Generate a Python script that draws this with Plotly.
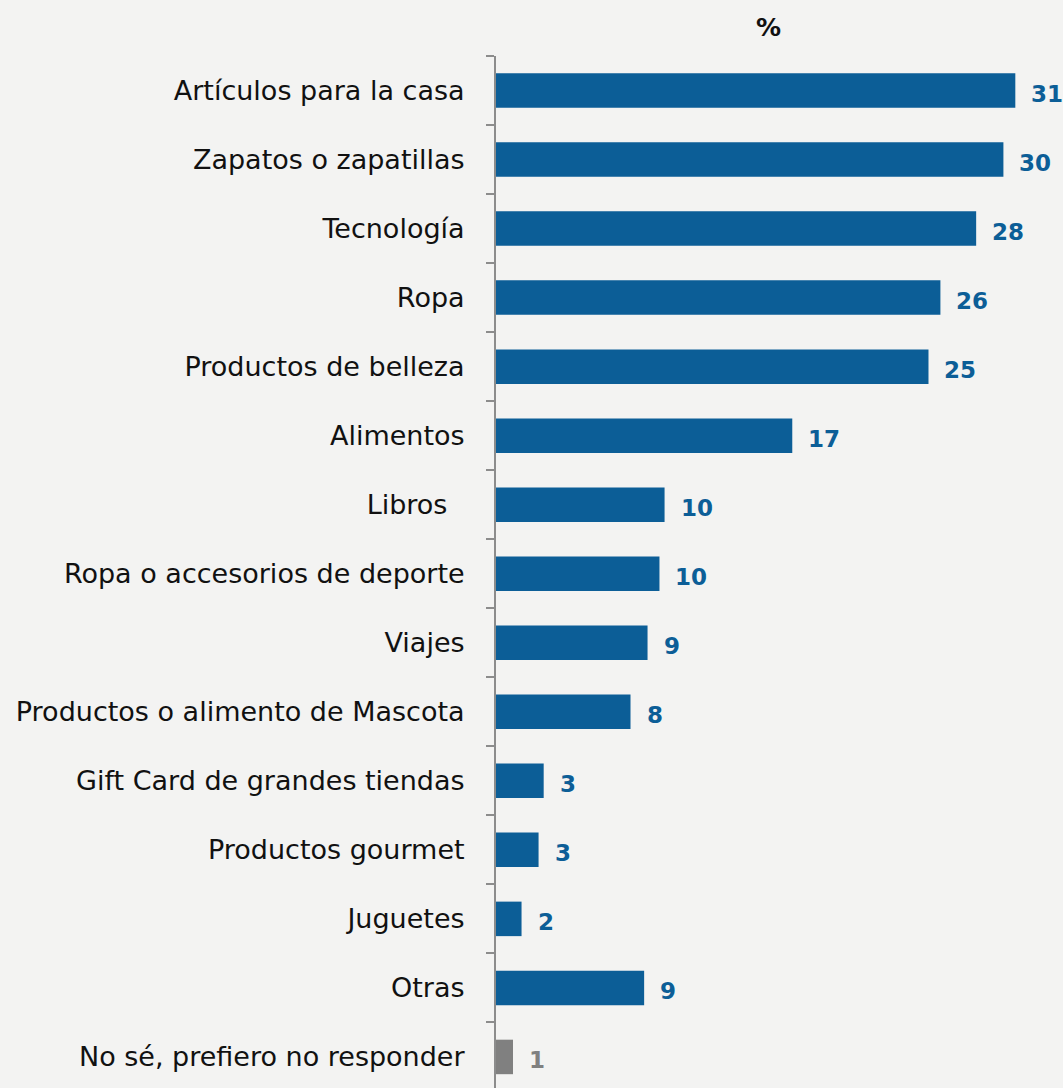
import plotly.graph_objects as go

# categories, top to bottom
categories = ["Artículos para la casa",
              "Zapatos o zapatillas",
              "Tecnología",
              "Ropa",
              "Productos de belleza",
              "Alimentos",
              "Libros\u00a0\u00a0",
              "Ropa o accesorios de deporte",
              "Viajes",
              "Productos o alimento de Mascota",
              "Gift Card de grandes tiendas",
              "Productos gourmet",
              "Juguetes",
              "Otras",
              "No sé, prefiero no responder"]

values = [30.5, 29.8, 28.2, 26.1, 25.4, 17.4, 9.9, 9.6, 8.9, 7.9, 2.8, 2.5, 1.5, 8.7, 1.0]
labels = ["31", "30", "28", "26", "25", "17", "10", "10", "9", "8", "3", "3", "2", "9", "1"]

blue = "#0c5e97"
grey = "#808080"
colors = [blue] * (len(values) - 1) + [grey]

fig = go.Figure()
fig.add_trace(go.Bar(
    x=values,
    y=categories,
    orientation="h",
    marker=dict(color=colors, line=dict(width=0)),
    hoverinfo="skip",
))

# value labels right of each bar
for cat, val, lab, col in zip(categories, values, labels, colors):
    fig.add_annotation(x=val, y=cat, text=f"<b>{lab}</b>",
                       xanchor="left", yanchor="middle",
                       xshift=14, yshift=-3, showarrow=False,
                       font=dict(size=23, color=col, family="DejaVu Sans"))

fig.add_annotation(text="<b>%</b>", xref="paper", yref="paper",
                   x=0.48, y=1, yshift=29, xanchor="center", yanchor="middle",
                   showarrow=False, font=dict(size=25, color="#111111", family="DejaVu Sans"))

fig.update_layout(
    width=1063, height=1088,
    margin=dict(l=496, r=0, t=56, b=0),
    paper_bgcolor="#f3f3f2",
    plot_bgcolor="rgba(0,0,0,0)",
    bargap=0.5,
    showlegend=False,
    font=dict(family="DejaVu Sans", size=27, color="#111111"),
)
fig.update_xaxes(range=[0, 33.3], visible=False, showgrid=False, zeroline=False)
fig.update_yaxes(
    range=[14.45, -0.5],
    showline=True, linecolor="#8c8c8c", linewidth=2,
    ticks="outside", tickson="boundaries", ticklen=8, tickwidth=2, tickcolor="#8c8c8c",
    ticklabelstandoff=24,
    showgrid=False, zeroline=False,
    tickfont=dict(size=27, color="#111111", family="DejaVu Sans"),
)

fig.write_html("out.html", config={"displayModeBar": False},
               post_script="document.body.style.margin='0';")
